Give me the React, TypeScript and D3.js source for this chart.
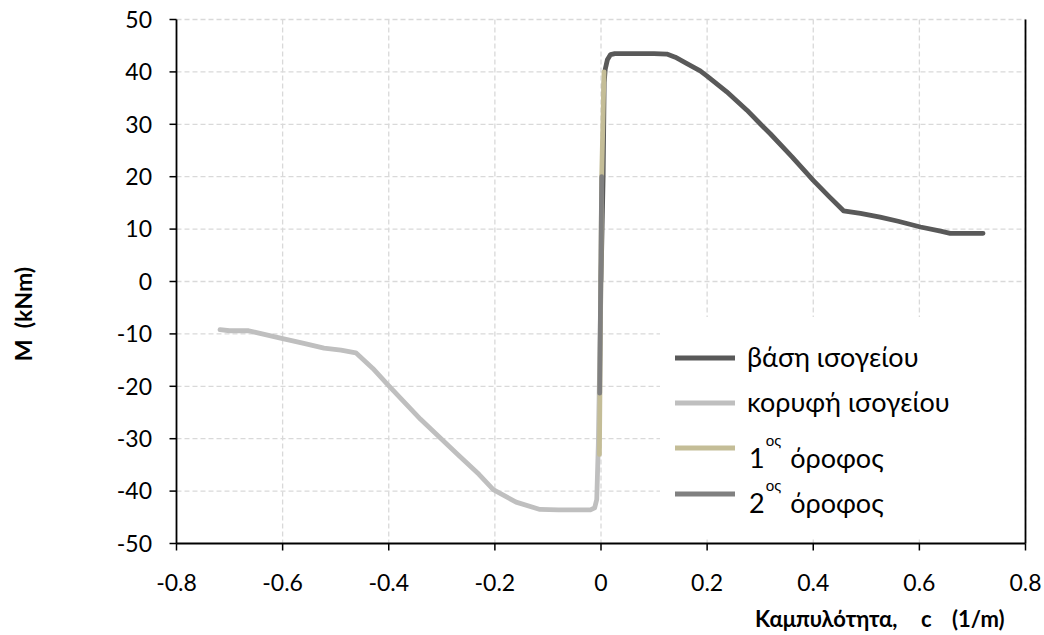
import React from "react";
import * as d3 from "d3";

// Moment–curvature response of the column sections
const baseCurvature = [0.0, 0.004, 0.006, 0.008, 0.012, 0.018, 0.026, 0.06, 0.1, 0.124, 0.14, 0.162, 0.187, 0.2, 0.237, 0.275, 0.3, 0.319, 0.36, 0.4, 0.43, 0.457, 0.489, 0.526, 0.56, 0.602, 0.64, 0.658, 0.69, 0.72];
const baseMoment = [0, 20, 38, 40.5, 42.3, 43.3, 43.5, 43.5, 43.5, 43.4, 42.8, 41.6, 40.2, 39.2, 36.2, 32.7, 30.1, 28.2, 23.8, 19.3, 16.2, 13.5, 13.0, 12.3, 11.5, 10.4, 9.6, 9.2, 9.2, 9.2];

const topCurvature = [-0.718, -0.7, -0.664, -0.604, -0.56, -0.522, -0.49, -0.462, -0.43, -0.402, -0.34, -0.27, -0.23, -0.203, -0.16, -0.115, -0.08, -0.04, -0.02, -0.012, -0.008, -0.005, 0.0];
const topMoment = [-9.2, -9.4, -9.4, -10.8, -11.8, -12.7, -13.1, -13.6, -16.6, -19.7, -26.3, -33.0, -36.8, -39.7, -42.1, -43.5, -43.6, -43.6, -43.6, -43.2, -41.6, -31, 0];

const floor1Curvature = [-0.003, -0.002, 0.0013, 0.0057];
const floor1Moment = [-33, -21, 20, 40];

const floor2Curvature = [-0.0025, 0.0013];
const floor2Moment = [-21.3, 20];

const xTicks = [-0.8, -0.6, -0.4, -0.2, 0, 0.2, 0.4, 0.6, 0.8];
const yTicks = [-50, -40, -30, -20, -10, 0, 10, 20, 30, 40, 50];

const seriesNames = ["βάση ισογείου", "κορυφή ισογείου", "1", "2"];
const xTitleParts = ["Καμπυλότητα,", "c", "(1/m)"];

const FONT = "Lato, 'Noto Sans', 'DejaVu Sans', sans-serif";
const NB = "\u00a0";

type Series = { name: string; xs: number[]; ys: number[]; color: string };

const series: Series[] = [
  { name: seriesNames[0], xs: baseCurvature, ys: baseMoment, color: "#595959" },
  { name: seriesNames[1], xs: topCurvature, ys: topMoment, color: "#bfbfbf" },
  { name: seriesNames[2], xs: floor1Curvature, ys: floor1Moment, color: "#c4bd97" },
  { name: seriesNames[3], xs: floor2Curvature, ys: floor2Moment, color: "#808080" },
];

export default function App() {
  const W = 1044;
  const H = 635;
  const left = 176.5;
  const right = 1025.5;
  const top = 19.5;
  const bottom = 543.5;

  const x = d3.scaleLinear().domain([-0.8, 0.8]).range([left, right]);
  const y = d3.scaleLinear().domain([-50, 50]).range([bottom, top]);

  const line = d3
    .line<[number, number]>()
    .x((d) => x(d[0]))
    .y((d) => y(d[1]));

  const legendX0 = 675;
  const legendX1 = 735;
  const legendTextX = 747;
  const legendRows = [
    { lineY: 358, baseY: 367 },
    { lineY: 403, baseY: 412 },
    { lineY: 448, baseY: 468 },
    { lineY: 494, baseY: 513 },
  ];

  const xTitlePos = [755, 921, 952];

  return (
    <svg
      width={W}
      height={H}
      style={{ position: "absolute", left: 0, top: 0, background: "#fff" }}
      fontFamily={FONT}
    >
      <rect x={0} y={0} width={W} height={H} fill="#fff" />

      {/* grid */}
      {xTicks
        .filter((t) => t !== -0.8)
        .map((t) => (
          <line
            key={"gx" + t}
            x1={x(t)}
            x2={x(t)}
            y1={top}
            y2={bottom}
            stroke="#d9d9d9"
            strokeWidth={1.3}
            strokeDasharray="5,3"
          />
        ))}
      {yTicks
        .filter((t) => t !== -50)
        .map((t) => (
          <line
            key={"gy" + t}
            x1={left}
            x2={right}
            y1={y(t)}
            y2={y(t)}
            stroke="#d9d9d9"
            strokeWidth={1.3}
            strokeDasharray="5,3"
          />
        ))}

      {/* legend background */}
      <rect x={660} y={317} width={right - 660 - 1} height={220} fill="#fff" />

      {/* series */}
      {series.map((s) => (
        <path
          key={s.name}
          d={line(s.xs.map((v, i) => [v, s.ys[i]] as [number, number])) || ""}
          fill="none"
          stroke={s.color}
          strokeWidth={4.8}
          strokeLinejoin="round"
          strokeLinecap="round"
        />
      ))}

      {/* axes */}
      <line x1={left} x2={left} y1={top} y2={bottom} stroke="#000" strokeWidth={1.8} />
      <line x1={left} x2={right} y1={bottom} y2={bottom} stroke="#000" strokeWidth={1.8} />
      <line x1={right} x2={right} y1={top} y2={bottom} stroke="#000" strokeWidth={1.8} />
      {yTicks.map((t) => (
        <g key={"ty" + t}>
          <line x1={left - 7} x2={left} y1={y(t)} y2={y(t)} stroke="#000" strokeWidth={1.5} />
          <text
            x={152}
            y={y(t)}
            dy="0.36em"
            textAnchor="end"
            fontSize={23}
            fill="#000"
          >
            {t}
          </text>
        </g>
      ))}
      {xTicks.map((t) => (
        <g key={"tx" + t}>
          <line x1={x(t)} x2={x(t)} y1={bottom} y2={bottom + 7} stroke="#000" strokeWidth={1.5} />
          <text x={x(t)} y={591} textAnchor="middle" fontSize={23} fill="#000">
            {t === 0 ? "0" : t.toFixed(1)}
          </text>
        </g>
      ))}

      {/* axis titles */}
      <text y={627} fontSize={22} fontWeight="bold" fill="#000">
        {xTitleParts.map((p, i) => (
          <tspan key={p} x={xTitlePos[i]}>
            {p}
          </tspan>
        ))}
      </text>
      <text
        transform="translate(32,314) rotate(-90)"
        textAnchor="middle"
        fontSize={23}
        fontWeight="bold"
        fill="#000"
      >
        {`M${NB}${NB}(kNm)`}
      </text>

      {/* legend */}
      {series.map((s, i) => (
        <g key={"lg" + i}>
          <line
            x1={legendX0}
            x2={legendX1}
            y1={legendRows[i].lineY}
            y2={legendRows[i].lineY}
            stroke={s.color}
            strokeWidth={4.8}
          />
          {i < 2 ? (
            <text x={legendTextX} y={legendRows[i].baseY} fontSize={27} fill="#000">
              {s.name}
            </text>
          ) : (
            <text x={legendTextX + 2} y={legendRows[i].baseY} fontSize={27} fill="#000">
              {s.name}
              <tspan dx={1} dy={-22} fontSize={15}>
                ος
              </tspan>
              <tspan dx={9} dy={22}>
                όροφος
              </tspan>
            </text>
          )}
        </g>
      ))}
    </svg>
  );
}
